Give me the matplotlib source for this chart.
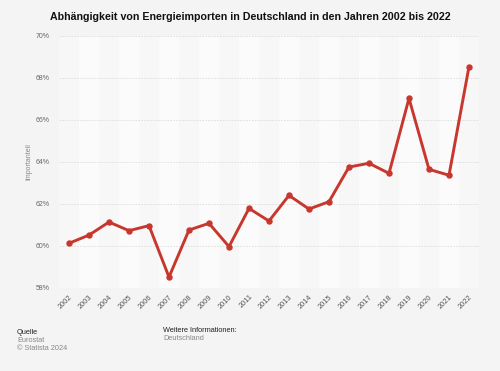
import matplotlib
matplotlib.use("Agg")
import matplotlib.pyplot as plt

years = [str(y) for y in range(2002, 2023)]
values = [60.13, 60.52, 61.14, 60.73, 60.97, 58.52, 60.76, 61.08, 59.97, 61.79,
          61.19, 62.41, 61.76, 62.11, 63.76, 63.94, 63.46, 67.03, 63.65, 63.37, 68.54]
yticks = [58, 60, 62, 64, 66, 68, 70]
ytick_labels = ["58%", "60%", "62%", "64%", "66%", "68%", "70%"]

plt.rcParams['font.family'] = ['Liberation Sans', 'DejaVu Sans']
bg = "#f4f4f4"
fig = plt.figure(figsize=(5.0, 3.71), dpi=100, facecolor=bg)
W, H = 500, 371
ax = fig.add_axes([59 / W, 1 - 288 / H, (479 - 59) / W, (288 - 36) / H])
ax.set_facecolor(bg)

x = list(range(len(years)))
for i in x:
    ax.axvspan(i - 0.5, i + 0.5, color="#f7f7f7" if i % 2 == 0 else "#fbfbfb", lw=0, zorder=0)

for t in yticks:
    ax.axhline(t, color="#dcdcdc", lw=0.6, ls=(0, (2, 1.5)), zorder=1)

ax.plot(x, values, color="#c8372d", lw=2.1, marker="o", ms=3.6, zorder=3,
        solid_joinstyle="round")

ax.set_xlim(-0.5, len(years) - 0.5)
ax.set_ylim(58, 70)
ax.set_yticks(yticks)
ax.set_yticklabels(ytick_labels, fontsize=5, color="#666666")
ax.set_xticks(x)
ax.set_xticklabels(years, rotation=45, ha="right", rotation_mode="anchor",
                   fontsize=5.3, color="#555555")
ax.tick_params(axis="y", length=0, pad=7)
ax.tick_params(axis="x", length=0, pad=4)
for s in ax.spines.values():
    s.set_visible(False)
ax.set_ylabel("Importanteil", fontsize=5, color="#888888", labelpad=2)

fig.text(250 / W, 1 - 17 / H, "Abhängigkeit von Energieimporten in Deutschland in den Jahren 2002 bis 2022",
         ha="center", va="center", fontsize=7.7, fontweight="bold", color="#111111")

fig.text(17 / W, 1 - 332 / H, "Quelle", fontsize=5.3, color="#222222", va="center")
fig.text(17 / W, 1 - 340.5 / H, "Eurostat", fontsize=5.3, color="#888888", va="center")
fig.text(17 / W, 1 - 348.5 / H, "© Statista 2024", fontsize=5.3, color="#888888", va="center")
fig.text(163 / W, 1 - 330.5 / H, "Weitere Informationen:", fontsize=5.3, color="#222222", va="center")
fig.text(163 / W, 1 - 339 / H, "Deutschland", fontsize=5.3, color="#888888", va="center")

fig.savefig("out.png", dpi=100, facecolor=bg)
